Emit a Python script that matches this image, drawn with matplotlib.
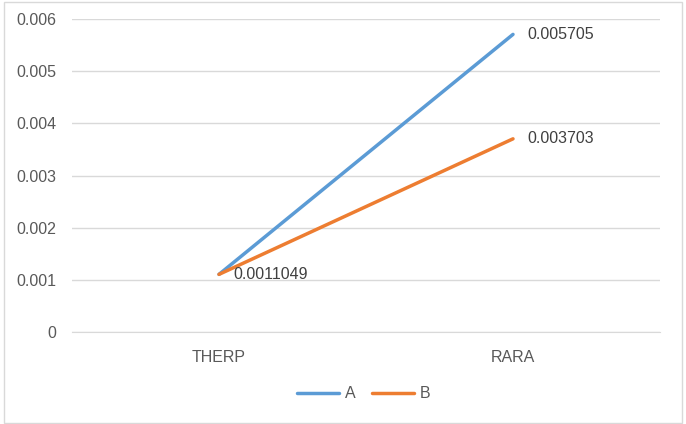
import matplotlib.pyplot as plt

categories = ["THERP", "RARA"]
a_vals = [0.0011049, 0.005705]
b_vals = [0.0011049, 0.003703]
yticks = [0, 0.001, 0.002, 0.003, 0.004, 0.005, 0.006]

plt.rcParams['font.family'] = ['Liberation Sans', 'DejaVu Sans']
fs = 11.5

fig = plt.figure(figsize=(6.86, 4.24), dpi=100)
ax = fig.add_axes([72/686, 1-332/424, 588/686, 313/424])

x = [0, 1]
ax.plot(x, a_vals, color='#5B9BD5', lw=2.5, label='A', solid_capstyle='round')
ax.plot(x, b_vals, color='#ED7D31', lw=2.5, label='B', solid_capstyle='round')

ax.set_xlim(-0.5, 1.5)
ax.set_ylim(0, 0.006)
ax.set_yticks(yticks)
ax.set_yticklabels([("%g" % v) if v else "0" for v in yticks])
ax.set_xticks(x)
ax.set_xticklabels(categories)
ax.grid(axis='y', color='#d9d9d9', lw=1)
ax.set_axisbelow(True)
for s in ['top', 'right', 'left']:
    ax.spines[s].set_visible(False)
ax.spines['bottom'].set_color('#d9d9d9')
ax.tick_params(length=0, colors='#595959', labelsize=fs)
ax.tick_params(axis='y', pad=11)
ax.tick_params(axis='x', pad=13)

# data labels
ax.annotate("%g" % a_vals[1], (1, a_vals[1]), xytext=(10, 0), textcoords='offset points',
            va='center', ha='left', fontsize=fs, color='#404040')
ax.annotate("%g" % b_vals[1], (1, b_vals[1]), xytext=(10, 0), textcoords='offset points',
            va='center', ha='left', fontsize=fs, color='#404040')
ax.annotate("%.7f" % a_vals[0], (0, a_vals[0]), xytext=(10, 0), textcoords='offset points',
            va='center', ha='left', fontsize=fs, color='#404040')

leg = fig.legend(loc='center', bbox_to_anchor=(364/686, 1-394/424), ncol=2, frameon=False,
                 fontsize=fs, handlelength=2.6, columnspacing=1.0, handletextpad=0.4)
for t in leg.get_texts():
    t.set_color('#595959')

fig.patches.append(plt.Rectangle((4/686, 1/424), 678/686, 421/424, transform=fig.transFigure,
                                 fill=False, edgecolor='#d9d9d9', lw=1))

fig.savefig('out.png', dpi=100)
